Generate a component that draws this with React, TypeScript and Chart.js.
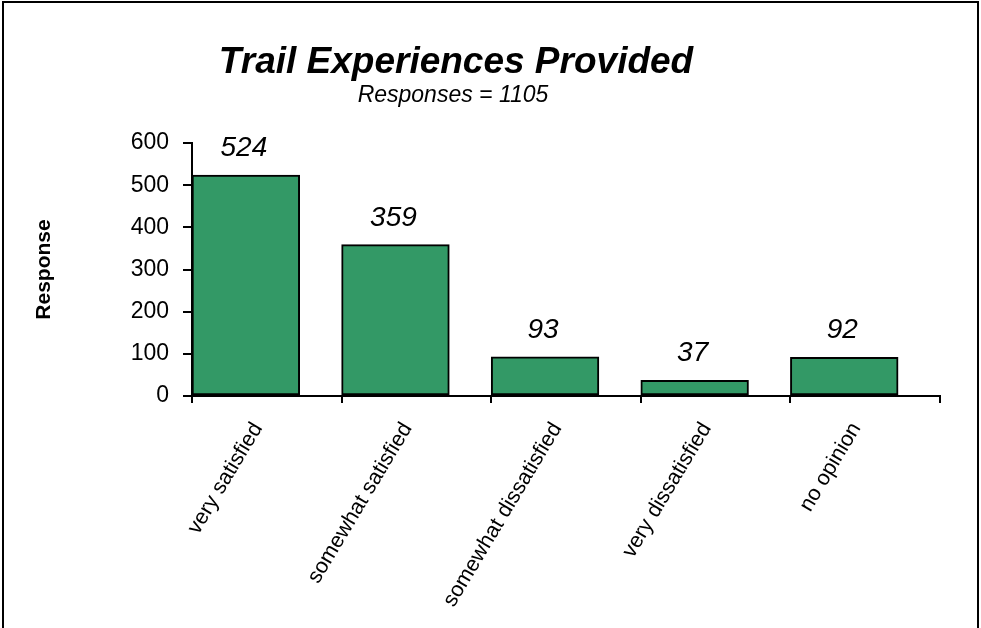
import React, { useEffect, useRef } from "react";
import { Chart, registerables } from "chart.js";

Chart.register(...registerables);

// ---- data ----
const TITLE = "Trail Experiences Provided";
const SUBTITLE = "Responses = 1105";
const Y_TITLE = "Response";
const CATEGORIES = [
  "very satisfied",
  "somewhat satisfied",
  "somewhat dissatisfied",
  "very dissatisfied",
  "no opinion",
];
const VALUES = [524, 359, 93, 37, 92];
const Y_MIN = 0;
const Y_MAX = 600;
const Y_STEP = 100;

// ---- layout / style ----
const W = 981;
const H = 628;
const FONT = "'Liberation Sans', Arial, Helvetica, sans-serif";
const BAR_COLOR = "#339966";
const PLOT_LEFT = 192;
const PLOT_RIGHT = 940;
const PLOT_TOP = 143;
const PLOT_BOTTOM = 396;
const BAR_FRACTION = 0.72; // bar width as a share of the category slot
const BAR_SHIFT = (1 - BAR_FRACTION) / 2; // bars sit at the left of each slot
const TITLE_X = 456;

const decorPlugin = {
  id: "decor",
  afterDatasetsDraw(chart: any) {
    const ctx = chart.ctx;
    const meta = chart.getDatasetMeta(0);
    ctx.save();
    ctx.fillStyle = "#000";
    ctx.textAlign = "center";
    ctx.textBaseline = "alphabetic";
    ctx.font = `italic 28px ${FONT}`;
    meta.data.forEach((bar: any, i: number) => {
      ctx.fillText(String(VALUES[i]), bar.x - 2, bar.y - 19);
    });
    ctx.restore();
  },
  afterDraw(chart: any) {
    const ctx = chart.ctx;
    ctx.save();
    ctx.fillStyle = "#000";
    ctx.textAlign = "center";
    ctx.textBaseline = "alphabetic";
    ctx.font = `italic bold 37px ${FONT}`;
    ctx.fillText(TITLE, TITLE_X, 73);
    ctx.font = `italic 23px ${FONT}`;
    ctx.fillText(SUBTITLE, TITLE_X - 3, 102);
    // outer frame
    ctx.strokeStyle = "#000";
    ctx.lineWidth = 2;
    ctx.beginPath();
    ctx.moveTo(3, H + 5);
    ctx.lineTo(3, 2);
    ctx.lineTo(W - 3, 2);
    ctx.lineTo(W - 3, H + 5);
    ctx.stroke();
    ctx.restore();
  },
};

export default function App() {
  const ref = useRef<HTMLCanvasElement | null>(null);

  useEffect(() => {
    if (!ref.current) return;
    const slot = (PLOT_RIGHT - PLOT_LEFT) / CATEGORIES.length;
    const chart = new Chart(ref.current, {
      type: "bar",
      data: {
        labels: CATEGORIES,
        datasets: [
          {
            data: VALUES.map((v, i) => ({ x: i - BAR_SHIFT, y: v })),
            xAxisID: "xb",
            yAxisID: "y",
            backgroundColor: BAR_COLOR,
            borderColor: "#000",
            borderWidth: 2,
            borderSkipped: false,
            barThickness: slot * BAR_FRACTION,
          } as any,
        ],
      },
      options: {
        responsive: false,
        animation: false,
        devicePixelRatio: 1,
        events: [],
        layout: {
          padding: { left: 0, right: W - PLOT_RIGHT, top: PLOT_TOP, bottom: 0 },
        },
        plugins: {
          legend: { display: false },
          title: { display: false },
          tooltip: { enabled: false },
        },
        scales: {
          x: {
            type: "category",
            offset: true,
            grid: {
              offset: true,
              drawOnChartArea: false,
              tickLength: 7,
              color: "#000",
              lineWidth: 2,
            },
            border: { color: "#000", width: 2 },
            ticks: {
              color: "#000",
              font: { family: FONT, size: 21.5 },
              maxRotation: 59,
              minRotation: 59,
              autoSkip: false,
              padding: 15,
              labelOffset: -9,
            },
            afterFit: (s: any) => {
              s.height = H - PLOT_BOTTOM;
            },
          },
          xb: {
            type: "linear",
            display: false,
            offset: false,
            min: -0.5,
            max: CATEGORIES.length - 0.5,
          },
          y: {
            min: Y_MIN,
            max: Y_MAX,
            ticks: {
              stepSize: Y_STEP,
              color: "#000",
              font: { family: FONT, size: 23 },
              padding: 14,
            },
            grid: {
              drawOnChartArea: false,
              tickLength: 9,
              color: "#000",
              lineWidth: 2,
            },
            border: { color: "#000", width: 2 },
            title: {
              display: true,
              text: Y_TITLE,
              color: "#000",
              font: { family: FONT, size: 21, weight: "bold" },
              padding: { top: 32, bottom: 0 },
            },
            afterFit: (s: any) => {
              s.width = PLOT_LEFT;
            },
          },
        } as any,
      },
      plugins: [decorPlugin],
    });
    return () => chart.destroy();
  }, []);

  return (
    <div style={{ position: "fixed", left: 0, top: 0, width: W, height: H, background: "#fff" }}>
      <canvas ref={ref} width={W} height={H} style={{ display: "block", width: W, height: H }} />
    </div>
  );
}
